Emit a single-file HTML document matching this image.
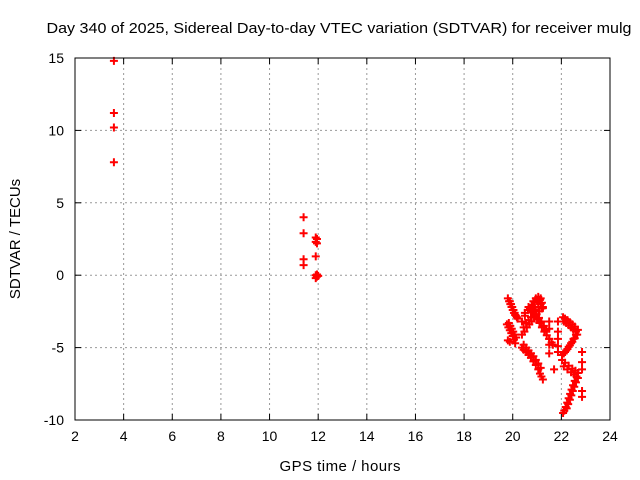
<!DOCTYPE html>
<html><head><meta charset="utf-8"><style>
html,body{margin:0;padding:0;background:#fff}
svg{display:block;font-family:"Liberation Sans",sans-serif}
</style></head><body>
<svg id="chart" width="640" height="480">
<text x="339" y="33" font-size="15" text-anchor="middle" textLength="585" lengthAdjust="spacingAndGlyphs">Day 340 of 2025, Sidereal Day-to-day VTEC variation (SDTVAR) for receiver mulg</text>
<text x="340" y="471" font-size="15" text-anchor="middle" textLength="121">GPS time / hours</text>
<text x="20" y="239" font-size="15" text-anchor="middle" transform="rotate(-90 20 239)">SDTVAR / TECUs</text>
<g id="grid"></g>
<g id="ticks"></g>
<g id="pts"></g>
<rect x="75" y="58" width="535" height="362" fill="none" stroke="#000" stroke-width="1"/>
</svg>
<script>
const xTicks=[2,4,6,8,10,12,14,16,18,20,22,24];
const yTicks=[15,10,5,0,-5,-10];
const hours=[3.6,3.6,3.6,3.6,
11.4,11.4,11.4,11.4,11.9,11.9,11.95,11.9,11.95,11.9,11.95,12.0,11.9,11.95,
19.80,19.85,19.9,19.95,20.0,20.05,20.1,20.17,
19.88,19.93,19.98,20.03,20.08,20.13,20.2,
19.76,19.82,19.88,19.94,20.0,20.05,20.1,19.8,
19.84,19.9,19.96,20.02,20.08,20.14,19.88,
20.38,20.48,20.58,20.68,20.78,20.88,20.98,21.08,21.18,21.24,
20.45,20.55,20.65,20.75,20.85,20.95,21.05,21.15,
20.38,20.5,20.62,20.79,20.9,21.0,21.12,21.2,21.24,
20.5,20.65,20.85,20.95,21.05,21.15,
20.71,20.8,20.9,21.0,21.1,21.2,21.3,21.4,21.5,21.6,21.65,
20.78,20.88,20.98,21.08,21.18,21.28,21.38,
20.38,20.45,20.55,20.65,20.75,20.85,20.95,21.05,21.12,21.18,21.24,
20.45,20.55,20.65,20.75,20.85,20.95,21.05,21.15,
22.07,22.15,22.25,22.35,22.45,22.55,22.68,
22.1,22.2,22.3,22.4,22.5,22.6,
22.6,22.5,22.4,22.3,22.2,22.1,22.03,
22.65,22.55,22.45,22.35,22.25,22.15,
22.03,22.15,22.3,22.45,22.58,22.68,
22.1,22.25,22.4,22.52,
22.62,22.55,22.48,22.42,22.36,22.3,22.24,22.18,22.12,22.07,
22.68,22.6,22.53,22.47,22.41,22.35,22.28,22.22,
21.5,21.5,21.5,21.5,21.5,21.86,21.86,21.86,21.86,21.7,21.86,
22.85,22.85,22.85,22.85,22.85];
const values=[14.8,11.2,10.2,7.8,
4.0,2.9,1.1,0.7,1.3,2.6,2.5,2.3,2.2,0.0,-0.1,-0.05,-0.2,0.05,
-1.6,-1.8,-2.0,-2.2,-2.4,-2.6,-2.75,-2.9,
-1.8,-2.0,-2.2,-2.4,-2.6,-2.8,-3.0,
-3.4,-3.6,-3.8,-4.0,-4.2,-4.45,-4.7,-4.5,
-3.3,-3.5,-3.7,-3.9,-4.1,-4.3,-4.6,
-4.1,-3.9,-3.6,-3.4,-3.2,-2.9,-2.7,-2.5,-2.3,-2.2,
-3.6,-3.3,-3.1,-2.9,-2.6,-2.4,-2.2,-2.0,
-3.2,-2.8,-2.4,-2.06,-1.9,-1.8,-1.7,-1.9,-2.27,
-2.6,-2.2,-1.8,-1.6,-1.5,-1.6,
-2.3,-2.55,-2.8,-3.05,-3.3,-3.6,-3.9,-4.15,-4.4,-4.65,-4.8,
-2.2,-2.45,-2.7,-2.95,-3.2,-3.5,-3.8,
-5.0,-5.15,-5.3,-5.5,-5.7,-5.95,-6.2,-6.5,-6.8,-7.0,-7.2,
-4.8,-5.0,-5.2,-5.4,-5.6,-5.85,-6.1,-6.4,
-2.9,-3.0,-3.1,-3.25,-3.4,-3.55,-3.78,
-3.2,-3.3,-3.45,-3.6,-3.75,-3.9,
-4.1,-4.4,-4.7,-4.95,-5.2,-5.4,-5.51,
-4.1,-4.35,-4.6,-4.85,-5.1,-5.3,
-5.86,-6.05,-6.25,-6.45,-6.6,-6.75,
-6.3,-6.5,-6.7,-6.85,
-7.0,-7.3,-7.6,-7.9,-8.2,-8.5,-8.8,-9.1,-9.35,-9.52,
-7.1,-7.4,-7.7,-8.0,-8.3,-8.6,-8.9,-9.2,
-3.2,-3.7,-4.4,-4.8,-5.4,-3.2,-3.9,-4.4,-4.9,-6.5,-5.3,
-5.3,-6.0,-6.5,-8.0,-8.4];
const NS='http://www.w3.org/2000/svg';
const X=h=>75+(h-2)*535/22;
const Y=v=>58+(15-v)*362/25;
const grid=document.getElementById('grid'),ticks=document.getElementById('ticks'),pts=document.getElementById('pts');
function mk(tag,attrs,parent){const e=document.createElementNS(NS,tag);for(const k in attrs)e.setAttribute(k,attrs[k]);parent.appendChild(e);return e;}
xTicks.forEach(t=>{const x=X(t);
 if(t>2&&t<24){const g=mk('line',{x1:x,x2:x,y1:58,y2:420,stroke:'#999','stroke-dasharray':'2,3'},grid);}
 mk('line',{x1:x,x2:x,y1:420,y2:414,stroke:'#000'},ticks);mk('line',{x1:x,x2:x,y1:58,y2:64,stroke:'#000'},ticks);
 const l=mk('text',{x:x,y:441,'font-size':14,'text-anchor':'middle'},ticks);l.textContent=t;
 });
yTicks.forEach(t=>{const y=Y(t);
 if(t<15&&t>-10){const g=mk('line',{x1:75,x2:610,y1:y,y2:y,stroke:'#999','stroke-dasharray':'2,3'},grid);}
 mk('line',{x1:75,x2:81,y1:y,y2:y,stroke:'#000'},ticks);mk('line',{x1:610,x2:604,y1:y,y2:y,stroke:'#000'},ticks);
 const l=mk('text',{x:64,y:y+5,'font-size':14,'text-anchor':'end'},ticks);l.textContent=t;
 });
hours.forEach((h,i)=>{const x=X(h),y=Y(values[i]);
 const p=mk('path',{d:`M${x-4} ${y}H${x+4}M${x} ${y-4}V${y+4}`,stroke:'#f00','stroke-width':2,fill:'none'},pts);
 
 });
</script>
</body></html>
